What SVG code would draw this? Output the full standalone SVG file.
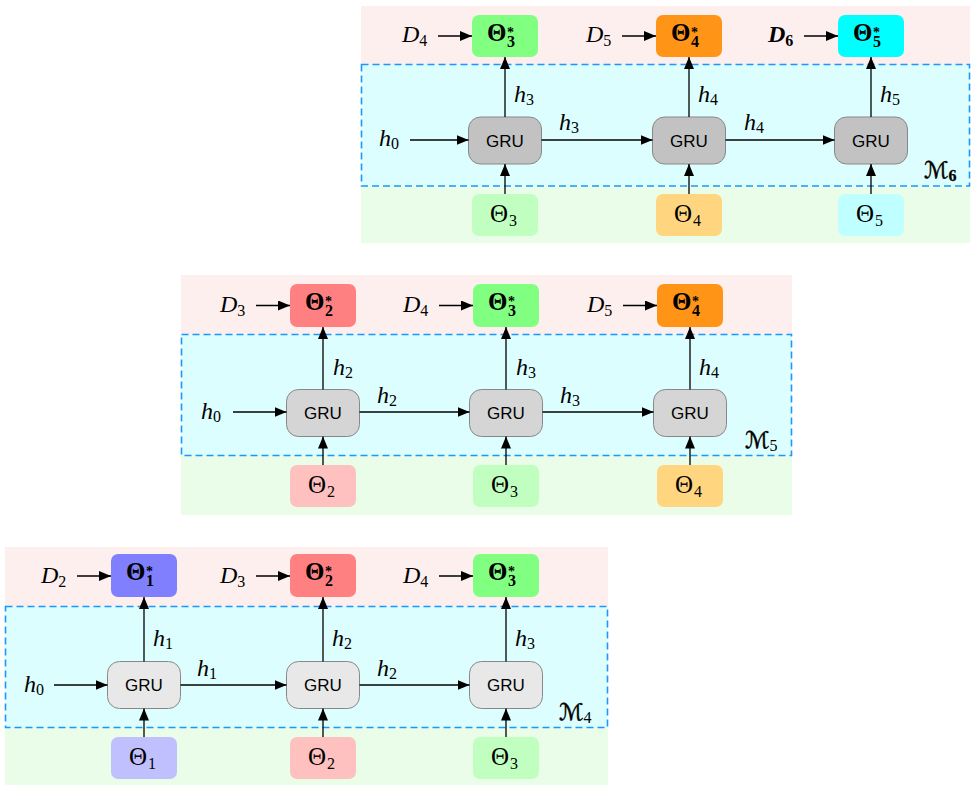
<svg xmlns="http://www.w3.org/2000/svg" width="974" height="788" viewBox="0 0 974 788">
<defs>
<marker id="ah" viewBox="0 0 12 10" refX="12" refY="5" markerWidth="12" markerHeight="10" markerUnits="userSpaceOnUse" orient="auto">
<path d="M0,0 L12,5 L0,10 z" fill="#000"/>
</marker>
</defs>
<style>
.pink{fill:#fdefee}
.green{fill:#e9fde9}
.dash{fill:#ddfefe;stroke:#1a98ff;stroke-width:1.6;stroke-dasharray:7,4}
.box{stroke:none}
.gru{stroke:#888;stroke-width:1}
.g1{fill:#c2c2c2}.g2{fill:#d5d5d5}.g3{fill:#e8e8e8}
.gt{font-family:"Liberation Sans",Arial,sans-serif;font-size:17px;text-anchor:middle;fill:#000}
.m{font-family:"Liberation Serif","Times New Roman",serif;font-style:italic;font-size:24px;fill:#000}
.s{font-family:"Liberation Serif","Times New Roman",serif;font-style:normal;font-size:16px}
.st{font-family:"Liberation Serif","Times New Roman",serif;font-style:normal;font-size:14px}
.th{font-family:"Liberation Serif","Times New Roman",serif;font-size:25px;fill:#000}
.tb{font-weight:bold}
.cal{font-family:"DejaVu Serif","DejaVu Sans",serif;font-style:normal;font-size:23px;fill:#000;stroke:#000;stroke-width:0.5}
.c line{stroke:#000;stroke-width:1.3;marker-end:url(#ah)}
</style>

<!-- ===== Panel M6 (top) ===== -->
<g id="panel6">
<rect class="pink" x="361" y="6" width="609" height="59"/>
<rect class="green" x="361" y="186" width="609" height="57"/>
<rect class="dash" x="361.5" y="64.5" width="608" height="121.5"/>
<text class="cal" x="924" y="178" stroke-width="0.9">ℳ<tspan class="s" font-weight="bold" stroke-width="0.3" dy="3">6</tspan></text>
</g>
<g id="p6_T3s"><rect class="box" x="472" y="15" width="66" height="42" rx="7" fill="#80ff80"/><text class="th tb" x="487" y="40.5">Θ<tspan class="st" x="507" dy="-4">*</tspan><tspan class="s" x="507" dy="10">3</tspan></text></g>
<g id="p6_T4s"><rect class="box" x="656" y="15" width="66" height="42" rx="7" fill="#ff9416"/><text class="th tb" x="671" y="40.5">Θ<tspan class="st" x="691" dy="-4">*</tspan><tspan class="s" x="691" dy="10">4</tspan></text></g>
<g id="p6_T5s"><rect class="box" x="838" y="15" width="66" height="42" rx="7" fill="#00ffff"/><text class="th tb" x="853" y="40.5">Θ<tspan class="st" x="873" dy="-4">*</tspan><tspan class="s" x="873" dy="10">5</tspan></text></g>
<g id="p6_gru1"><rect class="gru g1" x="468.5" y="117" width="73" height="47" rx="12"/><text class="gt" x="505" y="146.5">GRU</text></g>
<g id="p6_gru2"><rect class="gru g1" x="652.5" y="117" width="73" height="47" rx="12"/><text class="gt" x="689" y="146.5">GRU</text></g>
<g id="p6_gru3"><rect class="gru g1" x="834.5" y="117" width="73" height="47" rx="12"/><text class="gt" x="871" y="146.5">GRU</text></g>
<g id="p6_T3"><rect class="box" x="472" y="194" width="66" height="42" rx="7" fill="#c0ffc0"/><text class="th" x="490" y="222">Θ<tspan class="s" x="509" dy="4">3</tspan></text></g>
<g id="p6_T4"><rect class="box" x="656" y="194" width="66" height="42" rx="7" fill="#ffd580"/><text class="th" x="674" y="222">Θ<tspan class="s" x="693" dy="4">4</tspan></text></g>
<g id="p6_T5"><rect class="box" x="838" y="194" width="66" height="42" rx="7" fill="#c0ffff"/><text class="th" x="856" y="222">Θ<tspan class="s" x="875" dy="4">5</tspan></text></g>
<g id="p6_labels">
<text class="m" x="402" y="42">D<tspan class="s" dy="4">4</tspan></text>
<text class="m" x="586" y="42">D<tspan class="s" dy="4">5</tspan></text>
<text class="m" x="768" y="42" font-weight="bold">D<tspan class="s" dy="4">6</tspan></text>
<text class="m" x="379" y="146">h<tspan class="s" dy="3">0</tspan></text>
<text class="m" x="559" y="130">h<tspan class="s" dy="3">3</tspan></text>
<text class="m" x="744" y="130">h<tspan class="s" dy="3">4</tspan></text>
<text class="m" x="514" y="102">h<tspan class="s" dy="3">3</tspan></text>
<text class="m" x="698" y="102">h<tspan class="s" dy="3">4</tspan></text>
<text class="m" x="880" y="102">h<tspan class="s" dy="3">5</tspan></text>
</g>

<!-- ===== Panel M5 (middle) ===== -->
<g id="panel5">
<rect class="pink" x="181" y="275" width="611" height="60"/>
<rect class="green" x="181" y="455" width="611" height="60"/>
<rect class="dash" x="181.5" y="334.5" width="610" height="121"/>
<text class="cal" x="745" y="448">ℳ<tspan class="s" stroke-width="0" dy="3">5</tspan></text>
</g>
<g id="p5_T2s"><rect class="box" x="290" y="284" width="66" height="43" rx="7" fill="#ff8080"/><text class="th tb" x="305" y="309.5">Θ<tspan class="st" x="325" dy="-4">*</tspan><tspan class="s" x="325" dy="10">2</tspan></text></g>
<g id="p5_T3s"><rect class="box" x="473" y="284" width="66" height="43" rx="7" fill="#80ff80"/><text class="th tb" x="488" y="309.5">Θ<tspan class="st" x="508" dy="-4">*</tspan><tspan class="s" x="508" dy="10">3</tspan></text></g>
<g id="p5_T4s"><rect class="box" x="657" y="284" width="66" height="43" rx="7" fill="#ff9416"/><text class="th tb" x="672" y="309.5">Θ<tspan class="st" x="692" dy="-4">*</tspan><tspan class="s" x="692" dy="10">4</tspan></text></g>
<g id="p5_gru1"><rect class="gru g2" x="286.5" y="389.5" width="73" height="47" rx="12"/><text class="gt" x="323" y="419">GRU</text></g>
<g id="p5_gru2"><rect class="gru g2" x="469.5" y="389.5" width="73" height="47" rx="12"/><text class="gt" x="506" y="419">GRU</text></g>
<g id="p5_gru3"><rect class="gru g2" x="653.5" y="389.5" width="73" height="47" rx="12"/><text class="gt" x="690" y="419">GRU</text></g>
<g id="p5_T2"><rect class="box" x="290" y="465" width="66" height="42" rx="7" fill="#ffc0c0"/><text class="th" x="308" y="493">Θ<tspan class="s" x="327" dy="4">2</tspan></text></g>
<g id="p5_T3"><rect class="box" x="473" y="465" width="66" height="42" rx="7" fill="#c0ffc0"/><text class="th" x="491" y="493">Θ<tspan class="s" x="510" dy="4">3</tspan></text></g>
<g id="p5_T4"><rect class="box" x="657" y="465" width="66" height="42" rx="7" fill="#ffd580"/><text class="th" x="675" y="493">Θ<tspan class="s" x="694" dy="4">4</tspan></text></g>
<g id="p5_labels">
<text class="m" x="220" y="312">D<tspan class="s" dy="4">3</tspan></text>
<text class="m" x="403" y="312">D<tspan class="s" dy="4">4</tspan></text>
<text class="m" x="587" y="312">D<tspan class="s" dy="4">5</tspan></text>
<text class="m" x="201" y="419">h<tspan class="s" dy="3">0</tspan></text>
<text class="m" x="377" y="403">h<tspan class="s" dy="3">2</tspan></text>
<text class="m" x="560" y="403">h<tspan class="s" dy="3">3</tspan></text>
<text class="m" x="333" y="375">h<tspan class="s" dy="3">2</tspan></text>
<text class="m" x="516" y="375">h<tspan class="s" dy="3">3</tspan></text>
<text class="m" x="699" y="375">h<tspan class="s" dy="3">4</tspan></text>
</g>

<!-- ===== Panel M4 (bottom) ===== -->
<g id="panel4">
<rect class="pink" x="5" y="547" width="603" height="60"/>
<rect class="green" x="5" y="727" width="603" height="58"/>
<rect class="dash" x="5.5" y="606.5" width="602" height="121"/>
<text class="cal" x="559" y="720">ℳ<tspan class="s" stroke-width="0" dy="3">4</tspan></text>
</g>
<g id="p4_T1s"><rect class="box" x="111" y="554" width="66" height="43" rx="7" fill="#8080ff"/><text class="th tb" x="126" y="579.5">Θ<tspan class="st" x="146" dy="-4">*</tspan><tspan class="s" x="146" dy="10">1</tspan></text></g>
<g id="p4_T2s"><rect class="box" x="290" y="554" width="66" height="43" rx="7" fill="#ff8080"/><text class="th tb" x="305" y="579.5">Θ<tspan class="st" x="325" dy="-4">*</tspan><tspan class="s" x="325" dy="10">2</tspan></text></g>
<g id="p4_T3s"><rect class="box" x="473" y="554" width="66" height="43" rx="7" fill="#80ff80"/><text class="th tb" x="488" y="579.5">Θ<tspan class="st" x="508" dy="-4">*</tspan><tspan class="s" x="508" dy="10">3</tspan></text></g>
<g id="p4_gru1"><rect class="gru g3" x="107.5" y="661.5" width="73" height="47" rx="12"/><text class="gt" x="144" y="691">GRU</text></g>
<g id="p4_gru2"><rect class="gru g3" x="286.5" y="661.5" width="73" height="47" rx="12"/><text class="gt" x="323" y="691">GRU</text></g>
<g id="p4_gru3"><rect class="gru g3" x="469.5" y="661.5" width="73" height="47" rx="12"/><text class="gt" x="506" y="691">GRU</text></g>
<g id="p4_T1"><rect class="box" x="111" y="737" width="66" height="42" rx="7" fill="#c0c0ff"/><text class="th" x="129" y="765">Θ<tspan class="s" x="148" dy="4">1</tspan></text></g>
<g id="p4_T2"><rect class="box" x="290" y="737" width="66" height="42" rx="7" fill="#ffc0c0"/><text class="th" x="308" y="765">Θ<tspan class="s" x="327" dy="4">2</tspan></text></g>
<g id="p4_T3"><rect class="box" x="473" y="737" width="66" height="42" rx="7" fill="#c0ffc0"/><text class="th" x="491" y="765">Θ<tspan class="s" x="510" dy="4">3</tspan></text></g>
<g id="p4_labels">
<text class="m" x="41" y="583">D<tspan class="s" dy="4">2</tspan></text>
<text class="m" x="220" y="583">D<tspan class="s" dy="4">3</tspan></text>
<text class="m" x="403" y="583">D<tspan class="s" dy="4">4</tspan></text>
<text class="m" x="24" y="692">h<tspan class="s" dy="3">0</tspan></text>
<text class="m" x="197" y="676">h<tspan class="s" dy="3">1</tspan></text>
<text class="m" x="377" y="676">h<tspan class="s" dy="3">2</tspan></text>
<text class="m" x="153" y="646">h<tspan class="s" dy="3">1</tspan></text>
<text class="m" x="332" y="646">h<tspan class="s" dy="3">2</tspan></text>
<text class="m" x="515" y="646">h<tspan class="s" dy="3">3</tspan></text>
</g>

<!-- ===== Connectors ===== -->
<g id="connectors" class="c">
<line x1="438" y1="36" x2="472" y2="36"/>
<line x1="622" y1="36" x2="656" y2="36"/>
<line x1="804" y1="36" x2="838" y2="36"/>
<line x1="410" y1="140" x2="468.5" y2="140"/>
<line x1="541.5" y1="140" x2="652.5" y2="140"/>
<line x1="725.5" y1="140" x2="834.5" y2="140"/>
<line x1="505" y1="117" x2="505" y2="57"/>
<line x1="689" y1="117" x2="689" y2="57"/>
<line x1="871" y1="117" x2="871" y2="57"/>
<line x1="505" y1="194" x2="505" y2="164"/>
<line x1="689" y1="194" x2="689" y2="164"/>
<line x1="871" y1="194" x2="871" y2="164"/>
<line x1="256" y1="305.5" x2="290" y2="305.5"/>
<line x1="439" y1="305.5" x2="473" y2="305.5"/>
<line x1="623" y1="305.5" x2="657" y2="305.5"/>
<line x1="233" y1="412" x2="286.5" y2="412"/>
<line x1="359.5" y1="412" x2="469.5" y2="412"/>
<line x1="542.5" y1="412" x2="653.5" y2="412"/>
<line x1="323" y1="389.5" x2="323" y2="327"/>
<line x1="506" y1="389.5" x2="506" y2="327"/>
<line x1="690" y1="389.5" x2="690" y2="327"/>
<line x1="323" y1="465" x2="323" y2="436.5"/>
<line x1="506" y1="465" x2="506" y2="436.5"/>
<line x1="690" y1="465" x2="690" y2="436.5"/>
<line x1="77" y1="576" x2="111" y2="576"/>
<line x1="256" y1="576" x2="290" y2="576"/>
<line x1="439" y1="576" x2="473" y2="576"/>
<line x1="54" y1="685" x2="107.5" y2="685"/>
<line x1="180.5" y1="685" x2="286.5" y2="685"/>
<line x1="359.5" y1="685" x2="469.5" y2="685"/>
<line x1="144" y1="661.5" x2="144" y2="597"/>
<line x1="323" y1="661.5" x2="323" y2="597"/>
<line x1="506" y1="661.5" x2="506" y2="597"/>
<line x1="144" y1="737" x2="144" y2="708.5"/>
<line x1="323" y1="737" x2="323" y2="708.5"/>
<line x1="506" y1="737" x2="506" y2="708.5"/>
</g>
</svg>
